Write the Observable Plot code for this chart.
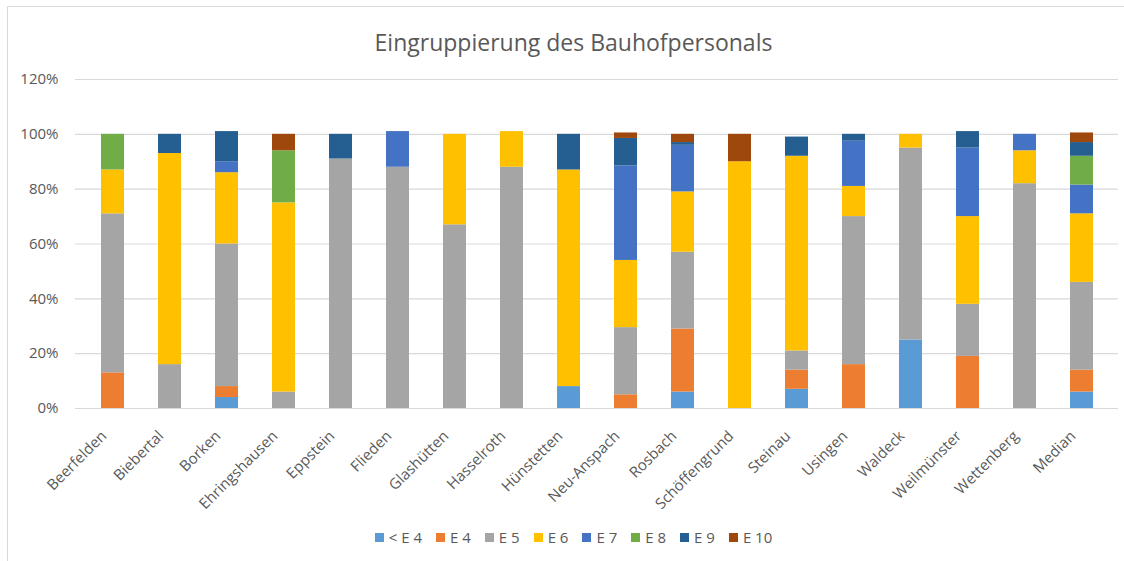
<!DOCTYPE html>
<html><head><meta charset="utf-8">
<script src="https://cdn.jsdelivr.net/npm/d3@7"></script>
<script src="https://cdn.jsdelivr.net/npm/@observablehq/plot@0.6"></script>
<style>
body{margin:0;background:#fff;font-family:"Open Sans",sans-serif;width:1124px;height:561px;overflow:hidden;position:relative}
#frame{position:absolute;left:7px;top:6px;width:1140px;height:600px;border:1px solid #d9d9d9;box-sizing:border-box}
#title{position:absolute;left:7px;width:1133px;top:26px;text-align:center;font-size:23px;color:#595959;line-height:32px}
#chart{position:absolute;left:0;top:60px}
#chart svg text{font-size:15px}
#legend{position:absolute;left:7px;width:1133px;top:527px;display:flex;justify-content:center;font-size:15px;color:#595959;line-height:20px}
#legend .item{display:flex;align-items:center;margin:0 7px}
#legend .sw{width:9px;height:9px;margin-right:5px}
</style></head>
<body>
<div id="frame"></div>
<div id="title">Eingruppierung des Bauhofpersonals</div>
<div id="chart"></div>
<div id="legend"></div>
<script>
const categories = ["Beerfelden","Biebertal","Borken","Ehringshausen","Eppstein","Flieden","Glashütten","Hasselroth","Hünstetten","Neu-Anspach","Rosbach","Schöffengrund","Steinau","Usingen","Waldeck","Weilmünster","Wettenberg","Median"];
const series = ["< E 4","E 4","E 5","E 6","E 7","E 8","E 9","E 10"];
const colors = ["#5B9BD5","#ED7D31","#A5A5A5","#FFC000","#4472C4","#70AD47","#255E91","#9E480E"];
// values in percent, one array per pay group
const ltE4 = [0,0,4,0,0,0,0,0,8,0,6,0,7,0,25,0,0,6];
const e4   = [13,0,4,0,0,0,0,0,0,5,23,0,7,16,0,19,0,8];
const e5   = [58,16,52,6,91,88,67,88,0,24.5,28,0,7,54,70,19,82,32];
const e6   = [16,77,26,69,0,0,33,13,79,24.5,22,90,71,11,5,32,12,25];
const e7   = [0,0,4,0,0,13,0,0,0,34.5,17,0,0,16.5,0,25,6,10.5];
const e8   = [13,0,0,19,0,0,0,0,0,0,0,0,0,0,0,0,0,10.5];
const e9   = [0,7,11,0,9,0,0,0,13,10,1,0,7,2.5,0,6,0,5];
const e10  = [0,0,0,6,0,0,0,0,0,2,3,10,0,0,0,0,0,3.5];
const yTicks = [0,0.2,0.4,0.6,0.8,1.0,1.2];

const seriesValues = [ltE4,e4,e5,e6,e7,e8,e9,e10];
const rows = [];
series.forEach((s,si)=>{
  categories.forEach((c,ci)=>{
    const v = seriesValues[si][ci];
    if (v>0) rows.push({cat:c, series:s, value:v/100});
  });
});

const chart = Plot.plot({
  width:1124, height:460,
  marginTop:19, marginBottom:112, marginLeft:75, marginRight:6,
  style:{fontFamily:"Open Sans", fontSize:"15px", color:"#595959", background:"transparent"},
  x:{domain:categories, paddingInner:0.6, paddingOuter:0.3},
  y:{domain:[0,1.2]},
  color:{domain:series, range:colors},
  marks:[
    Plot.gridY(yTicks,{stroke:"#d9d9d9", strokeOpacity:1, strokeWidth:1.2}),
    Plot.barY(rows,{x:"cat", y:"value", fill:"series"}),
    Plot.axisY(yTicks,{tickSize:0, tickPadding:17, fontSize:15, tickFormat:d=>Math.round(d*100)+"%", label:null, fill:"#595959"}),
    Plot.axisX({tickSize:0, tickRotate:-45, tickPadding:25, dx:-9, fontSize:15, label:null, fill:"#595959"})
  ]
});
document.getElementById("chart").appendChild(chart);

const leg = document.getElementById("legend");
series.forEach((s,i)=>{
  const it = document.createElement("div"); it.className="item";
  const sw = document.createElement("div"); sw.className="sw"; sw.style.background=colors[i];
  const t = document.createElement("span"); t.textContent=s;
  it.appendChild(sw); it.appendChild(t); leg.appendChild(it);
});
</script>
</body></html>
